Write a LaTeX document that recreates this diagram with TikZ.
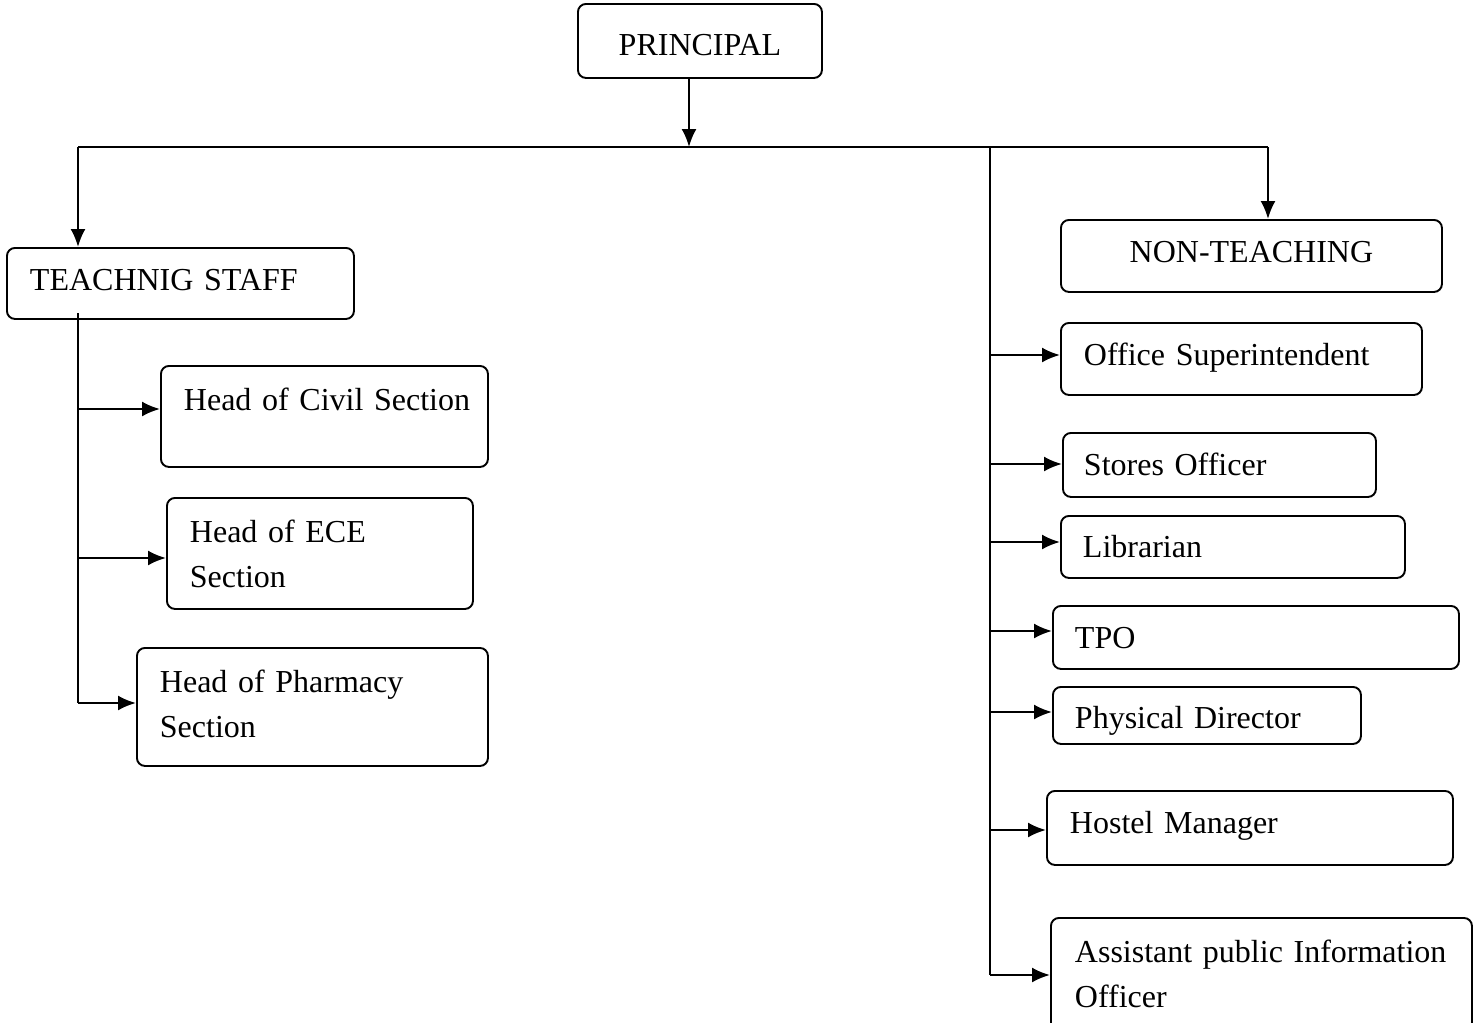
\documentclass[tikz,border=0pt]{standalone}
\usepackage{fontspec}
\setmainfont{Liberation Serif}
\usepackage{tikz}
\usetikzlibrary{arrows.meta}

\begin{document}
\begin{tikzpicture}[x=1pt,y=-1pt]

\tikzset{box/.style = {draw, rounded corners=8pt, line width=1.9pt, anchor=north west,
  inner xsep=23pt, inner ysep=0pt, align=left, font=\fontsize{32}{45}\selectfont}}
\tikzset{edge/.style = {-{Latex[length=18pt,width=15pt]}, line width=2.2pt}}
\tikzset{line/.style = {line width=2.2pt}}

\useasboundingbox (0,0) rectangle (1481,1023);

% boxes
\node[box, align=center, text width=198pt, text height=52pt, text depth=22pt] (principal) at (577,3) {PRINCIPAL};
\node[box, text width=301pt, text height=43pt, text depth=28pt] (teach) at (6,247) {TEACHNIG STAFF};
\node[box, text width=281pt, text height=45pt, text depth=56pt] (civil) at (160,365) {\mbox{Head of Civil Section}};
\node[box, text width=260pt, text height=45pt, text depth=66pt] (ece) at (166,497) {Head of ECE\\Section};
\node[box, text width=305pt, text height=45pt, text depth=73pt] (pharm) at (136,647) {Head of Pharmacy\\Section};

\node[box, align=center, text width=335pt, text height=43pt, text depth=29pt] (nonteach) at (1060,219) {NON-TEACHING};
\node[box, text width=315pt, text height=43pt, text depth=29pt] (office) at (1060,322) {Office Superintendent};
\node[box, text width=271pt, text height=43pt, text depth=21pt, inner xsep=21pt] (stores) at (1062,432) {Stores Officer};
\node[box, text width=300pt, text height=42pt, text depth=20pt, inner xsep=22pt] (lib) at (1060,515) {Librarian};
\node[box, text width=362pt, text height=43pt, text depth=20pt, inner xsep=22pt] (tpo) at (1052,605) {TPO};
\node[box, text width=264pt, text height=42pt, text depth=15pt, inner xsep=22pt] (phys) at (1052,686) {Physical Director};
\node[box, text width=360pt, text height=43pt, text depth=31pt] (hostel) at (1046,790) {Hostel Manager};
\node[box, text width=373pt, text height=45pt, text depth=68pt, inner xsep=24pt] (apio) at (1050,917) {\mbox{Assistant public Information}\\Officer};

% junctions
\coordinate (top) at (689,147);
\coordinate (lt) at (78,147);
\coordinate (rt) at (1268,147);
\coordinate (rj) at (990,147);
\coordinate (tb) at (78,703);
\coordinate (rb) at (990,975);

% lines
\draw[edge] (top |- principal.south) -- (top);
\draw[line] (lt) -- (rt);
\draw[edge] (lt) -- (lt |- teach.north);
\draw[edge] (rt) -- (rt |- nonteach.north);

\draw[line] (78,313) -- (tb);
\draw[edge] (78,409) -- (78,409 -| civil.west);
\draw[edge] (78,558) -- (78,558 -| ece.west);
\draw[edge] (tb) -- (tb -| pharm.west);

\draw[line] (rj) -- (rb);
\draw[edge] (990,355) -- (990,355 -| office.west);
\draw[edge] (990,464) -- (990,464 -| stores.west);
\draw[edge] (990,542) -- (990,542 -| lib.west);
\draw[edge] (990,631) -- (990,631 -| tpo.west);
\draw[edge] (990,712) -- (990,712 -| phys.west);
\draw[edge] (990,830) -- (990,830 -| hostel.west);
\draw[edge] (rb) -- (rb -| apio.west);

\end{tikzpicture}
\end{document}
